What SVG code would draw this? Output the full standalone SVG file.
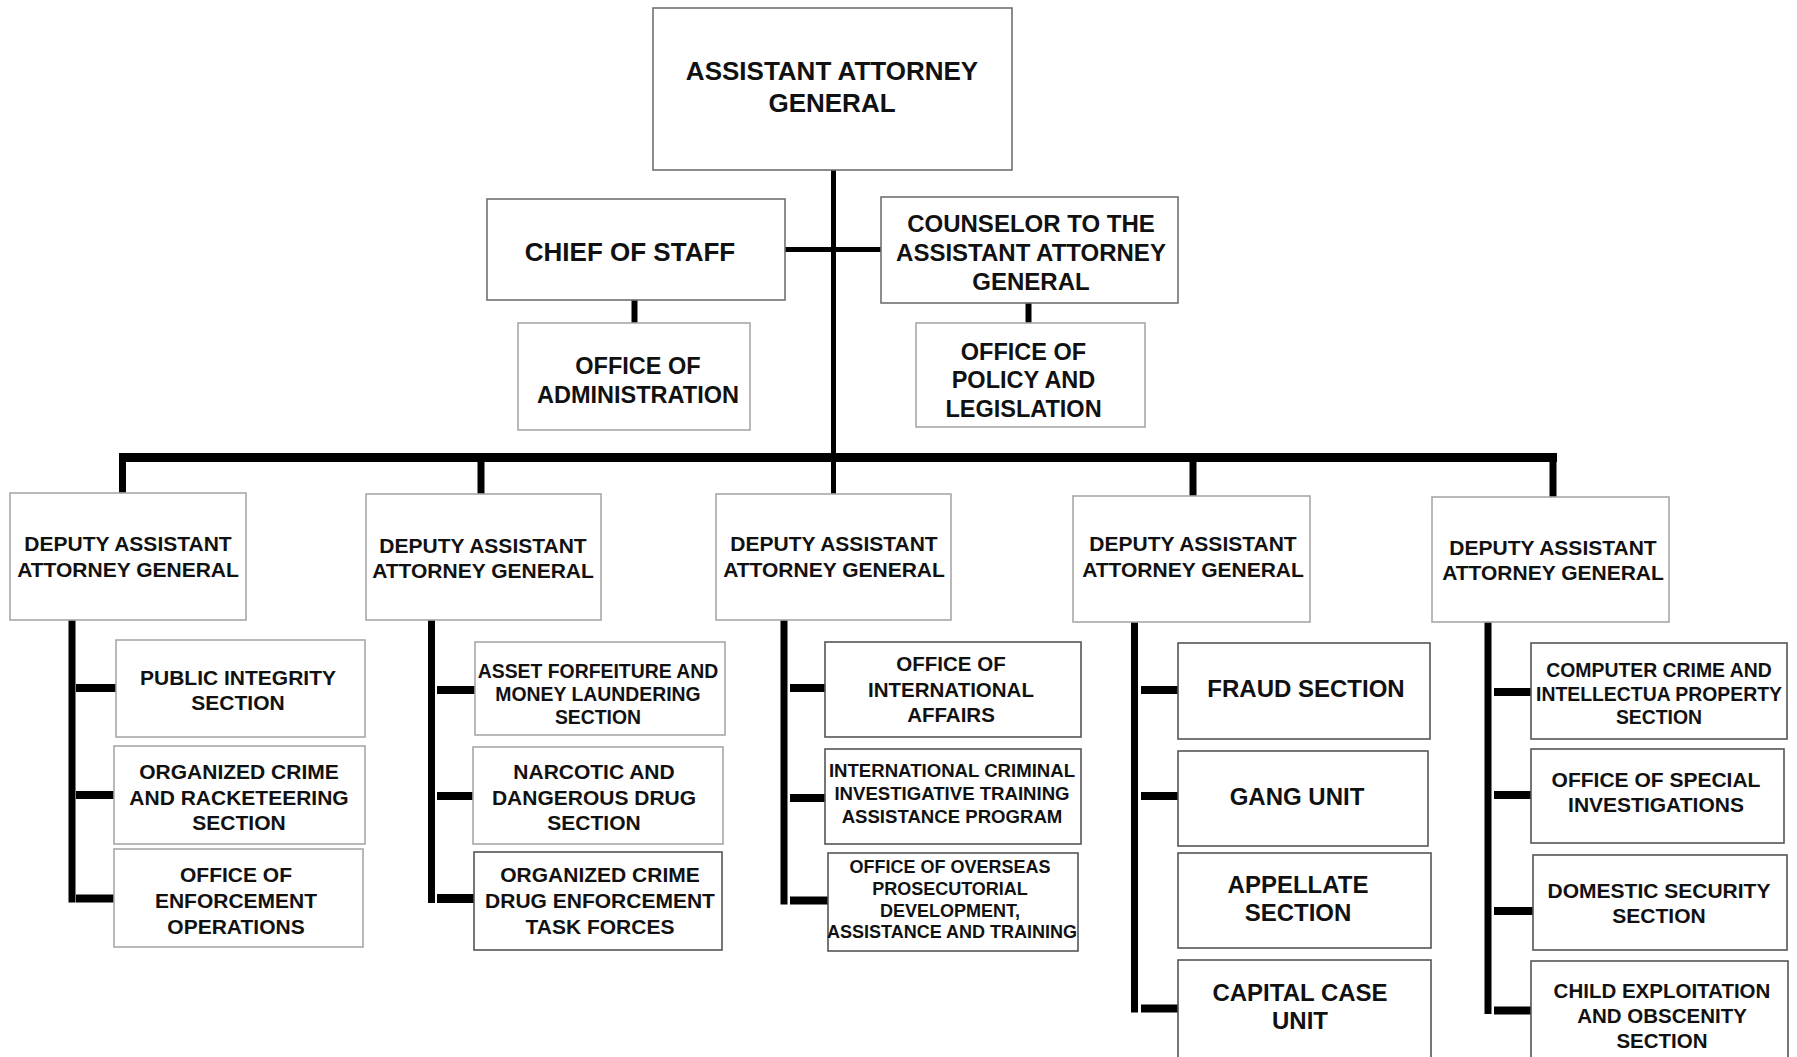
<svg xmlns="http://www.w3.org/2000/svg" width="1797" height="1057" viewBox="0 0 1797 1057">
<style>
.b{fill:#fff;stroke-width:1.6}
.lt{stroke:#a8a8a8}
.md{stroke:#707070}
.dk{stroke:#555}
text{font-family:"Liberation Sans",Arial,sans-serif;font-weight:bold;text-anchor:middle;fill:#111}
.c line{stroke:#000;stroke-linecap:butt}
.s26{font-size:26px}.s24{font-size:24px}.s23{font-size:23.5px}.s21{font-size:21px}.s20{font-size:20.5px}.s19{font-size:19.4px}.s18{font-size:18.6px}.s17{font-size:18px}
</style>
<rect width="1797" height="1057" fill="#fff"/>
<g class="c" id="connectors">
<line x1="833.5" y1="170" x2="833.5" y2="494" stroke-width="5"/>
<line x1="785" y1="249.5" x2="881" y2="249.5" stroke-width="5"/>
<line x1="634.5" y1="300" x2="634.5" y2="323" stroke-width="6"/>
<line x1="1028.5" y1="303" x2="1028.5" y2="323" stroke-width="6"/>
<line x1="119" y1="457.5" x2="1557" y2="457.5" stroke-width="9"/>
<line x1="122.5" y1="462" x2="122.5" y2="493" stroke-width="7"/>
<line x1="481" y1="462" x2="481" y2="494" stroke-width="7"/>
<line x1="1193" y1="462" x2="1193" y2="496" stroke-width="7"/>
<line x1="1553" y1="462" x2="1553" y2="497" stroke-width="7"/>
<line x1="72" y1="620" x2="72" y2="902.5" stroke-width="7"/>
<line x1="76" y1="688" x2="116" y2="688" stroke-width="8"/>
<line x1="76" y1="795" x2="114" y2="795" stroke-width="8"/>
<line x1="76" y1="898.5" x2="114" y2="898.5" stroke-width="8"/>
<line x1="431.5" y1="620" x2="431.5" y2="903" stroke-width="7"/>
<line x1="437" y1="690" x2="475" y2="690" stroke-width="8"/>
<line x1="437" y1="796" x2="473" y2="796" stroke-width="8"/>
<line x1="437" y1="898.5" x2="474" y2="898.5" stroke-width="9"/>
<line x1="784" y1="620" x2="784" y2="904.5" stroke-width="7"/>
<line x1="790" y1="688" x2="825" y2="688" stroke-width="8"/>
<line x1="790" y1="798" x2="825" y2="798" stroke-width="8"/>
<line x1="790" y1="900.5" x2="828" y2="900.5" stroke-width="8"/>
<line x1="1134.5" y1="622" x2="1134.5" y2="1012.5" stroke-width="7"/>
<line x1="1141" y1="690" x2="1178" y2="690" stroke-width="8"/>
<line x1="1141" y1="796" x2="1178" y2="796" stroke-width="8"/>
<line x1="1141" y1="1008.5" x2="1178" y2="1008.5" stroke-width="8"/>
<line x1="1488" y1="622" x2="1488" y2="1014" stroke-width="7"/>
<line x1="1494" y1="692" x2="1531" y2="692" stroke-width="8"/>
<line x1="1494" y1="795" x2="1531" y2="795" stroke-width="8"/>
<line x1="1494" y1="911" x2="1533" y2="911" stroke-width="8"/>
<line x1="1494" y1="1010.5" x2="1531" y2="1010.5" stroke-width="8"/>
</g>
<g id="aag"><rect class="b md" x="653" y="8" width="359" height="162"/>
<text class="s26" x="832" y="80">ASSISTANT ATTORNEY</text><text class="s26" x="832" y="112">GENERAL</text></g>
<g id="chief"><rect class="b md" x="487" y="199" width="298" height="101"/>
<text class="s26" x="630" y="261">CHIEF OF STAFF</text></g>
<g id="counselor"><rect class="b md" x="881" y="197" width="297" height="106"/>
<text class="s24" x="1031" y="232">COUNSELOR TO THE</text><text class="s24" x="1031" y="261">ASSISTANT ATTORNEY</text><text class="s24" x="1031" y="289.5">GENERAL</text></g>
<g id="admin"><rect class="b lt" x="518" y="323" width="232" height="107"/>
<text class="s23" x="638" y="374">OFFICE OF</text><text class="s23" x="638" y="402.5">ADMINISTRATION</text></g>
<g id="policy"><rect class="b lt" x="916" y="323" width="229" height="104"/>
<text class="s23" x="1023.5" y="359.5">OFFICE OF</text><text class="s23" x="1023.5" y="388">POLICY AND</text><text class="s23" x="1023.5" y="416.5">LEGISLATION</text></g>
<g id="dep1"><rect class="b lt" x="10" y="493" width="236" height="127"/>
<text class="s21" x="128" y="550.5">DEPUTY ASSISTANT</text><text class="s21" x="128" y="576.5">ATTORNEY GENERAL</text></g>
<g id="dep2"><rect class="b lt" x="366" y="494" width="235" height="126"/>
<text class="s21" x="483" y="552.5">DEPUTY ASSISTANT</text><text class="s21" x="483" y="578">ATTORNEY GENERAL</text></g>
<g id="dep3"><rect class="b lt" x="716" y="494" width="235" height="126"/>
<text class="s21" x="834" y="550.5">DEPUTY ASSISTANT</text><text class="s21" x="834" y="576.5">ATTORNEY GENERAL</text></g>
<g id="dep4"><rect class="b lt" x="1073" y="496" width="237" height="126"/>
<text class="s21" x="1193" y="550.5">DEPUTY ASSISTANT</text><text class="s21" x="1193" y="576.5">ATTORNEY GENERAL</text></g>
<g id="dep5"><rect class="b lt" x="1432" y="497" width="237" height="125"/>
<text class="s21" x="1553" y="554.5">DEPUTY ASSISTANT</text><text class="s21" x="1553" y="579.5">ATTORNEY GENERAL</text></g>
<g id="pi"><rect class="b lt" x="116" y="640" width="249" height="97"/>
<text class="s21" x="238" y="684.5">PUBLIC INTEGRITY</text><text class="s21" x="238" y="709.5">SECTION</text></g>
<g id="ocr"><rect class="b lt" x="114" y="746" width="251" height="98"/>
<text class="s21" x="239" y="779">ORGANIZED CRIME</text><text class="s21" x="239" y="804.5">AND RACKETEERING</text><text class="s21" x="239" y="829.5">SECTION</text></g>
<g id="oeo"><rect class="b lt" x="114" y="849" width="249" height="98"/>
<text class="s21" x="236" y="882">OFFICE OF</text><text class="s21" x="236" y="908">ENFORCEMENT</text><text class="s21" x="236" y="933.5">OPERATIONS</text></g>
<g id="afmls"><rect class="b lt" x="475" y="642" width="250" height="93"/>
<text class="s19" x="598" y="678">ASSET FORFEITURE AND</text><text class="s19" x="598" y="701">MONEY LAUNDERING</text><text class="s19" x="598" y="724">SECTION</text></g>
<g id="ndds"><rect class="b lt" x="473" y="747" width="250" height="97"/>
<text class="s21" x="594" y="779">NARCOTIC AND</text><text class="s21" x="594" y="804.5">DANGEROUS DRUG</text><text class="s21" x="594" y="829.5">SECTION</text></g>
<g id="ocdetf"><rect class="b dk" x="474" y="852" width="248" height="98"/>
<text class="s21" x="600" y="882">ORGANIZED CRIME</text><text class="s21" x="600" y="908">DRUG ENFORCEMENT</text><text class="s21" x="600" y="933.5">TASK FORCES</text></g>
<g id="oia"><rect class="b dk" x="825" y="642" width="256" height="95"/>
<text class="s20" x="951" y="671">OFFICE OF</text><text class="s20" x="951" y="697">INTERNATIONAL</text><text class="s20" x="951" y="722">AFFAIRS</text></g>
<g id="icitap"><rect class="b dk" x="825" y="749" width="256" height="95"/>
<text class="s18" x="952" y="776.5">INTERNATIONAL CRIMINAL</text><text class="s18" x="952" y="799.5">INVESTIGATIVE TRAINING</text><text class="s18" x="952" y="822.5">ASSISTANCE PROGRAM</text></g>
<g id="opdat"><rect class="b dk" x="828" y="853" width="250" height="98"/>
<text class="s17" x="950" y="872.5">OFFICE OF OVERSEAS</text><text class="s17" x="950" y="894.5">PROSECUTORIAL</text><text class="s17" x="950" y="916.5">DEVELOPMENT,</text><text class="s17" x="952" y="938">ASSISTANCE AND TRAINING</text></g>
<g id="fraud"><rect class="b dk" x="1178" y="643" width="252" height="96"/>
<text class="s24" x="1306" y="696.5">FRAUD SECTION</text></g>
<g id="gang"><rect class="b dk" x="1178" y="751" width="250" height="95"/>
<text class="s24" x="1297" y="805">GANG UNIT</text></g>
<g id="appellate"><rect class="b dk" x="1178" y="853" width="253" height="95"/>
<text class="s24" x="1298" y="892.5">APPELLATE</text><text class="s24" x="1298" y="920.5">SECTION</text></g>
<g id="capital"><rect class="b dk" x="1178" y="960" width="253" height="110"/>
<text class="s24" x="1300" y="1001">CAPITAL CASE</text><text class="s24" x="1300" y="1029">UNIT</text></g>
<g id="ccips"><rect class="b dk" x="1531" y="643" width="256" height="96"/>
<text class="s19" x="1659" y="677">COMPUTER CRIME AND</text><text class="s19" x="1659" y="700.5">INTELLECTUA PROPERTY</text><text class="s19" x="1659" y="724">SECTION</text></g>
<g id="osi"><rect class="b dk" x="1531" y="749" width="253" height="94"/>
<text class="s21" x="1656" y="786.5">OFFICE OF SPECIAL</text><text class="s21" x="1656" y="812">INVESTIGATIONS</text></g>
<g id="dss"><rect class="b dk" x="1533" y="855" width="254" height="95"/>
<text class="s21" x="1659" y="897.5">DOMESTIC SECURITY</text><text class="s21" x="1659" y="923">SECTION</text></g>
<g id="ceos"><rect class="b dk" x="1531" y="961" width="257" height="110"/>
<text class="s20" x="1662" y="998">CHILD EXPLOITATION</text><text class="s20" x="1662" y="1023">AND OBSCENITY</text><text class="s20" x="1662" y="1048">SECTION</text></g>
</svg>
